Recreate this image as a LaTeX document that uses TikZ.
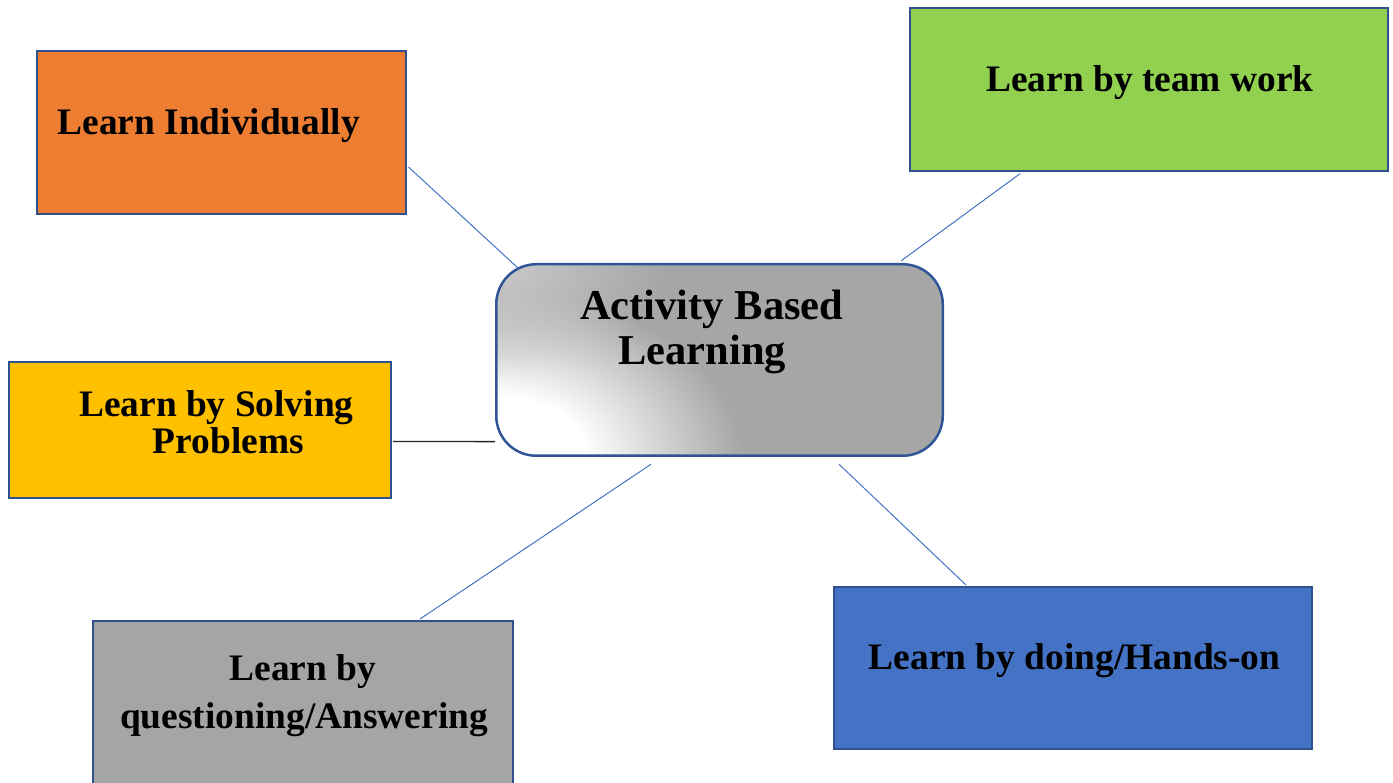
\documentclass[tikz,border=0pt]{standalone}
\usepackage{fontspec}
\setmainfont{Liberation Serif}
\usetikzlibrary{calc,fadings}
\definecolor{cgray}{HTML}{A6A6A6}
\definecolor{tlc}{HTML}{CACACA}
\definecolor{borderblue}{HTML}{2F528F}
\definecolor{ctrborder}{HTML}{2F5597}
\definecolor{connblue}{HTML}{4472C4}
\definecolor{corange}{HTML}{ED7D31}
\definecolor{cgreen}{HTML}{92D050}
\definecolor{cyellow}{HTML}{FFC000}
\definecolor{cboxgray}{HTML}{A5A5A5}
\definecolor{cblue}{HTML}{4472C4}
\pgfdeclareradialshading{blspot}{\pgfpoint{0bp}{0bp}}{color(0bp)=(white); color(9bp)=(white); color(25bp)=(cgray); color(50bp)=(cgray)}
\tikzfading[name=tlfade, inner color=transparent!0, outer color=transparent!100]
\tikzset{
  box/.style={draw=borderblue, line width=2pt, inner sep=0pt, rectangle},
  lbl/.style={inner sep=0pt, anchor=base west, font=\bfseries\fontsize{37.4}{37.4}\selectfont},
  clbl/.style={inner sep=0pt, anchor=base west, font=\bfseries\fontsize{42.5}{42.5}\selectfont},
  conn/.style={draw=connblue, line width=1pt},
  blackconn/.style={draw=black!85, line width=1.3pt}
}
\begin{document}
\begin{tikzpicture}[x=1pt,y=-1pt]
\useasboundingbox (0,0) rectangle (1393,783);
% boxes
\node[box, fill=corange, minimum width=369.5pt, minimum height=163pt] (ind) at (221.25,132.5) {};
\node[box, fill=cgreen, minimum width=478.3pt, minimum height=162.7pt] (team) at (1148.85,89.65) {};
\node[box, fill=cyellow, minimum width=381.7pt, minimum height=136.3pt] (solve) at (200.15,429.85) {};
\node[box, fill=cboxgray, minimum width=420.3pt, minimum height=199pt] (quest) at (302.85,720.5) {};
\node[box, fill=cblue, minimum width=478pt, minimum height=162pt] (doing) at (1073,668) {};
% centre
\node[draw=ctrborder, line width=2.5pt, rounded corners=40pt, inner sep=0pt,
      minimum width=446.5pt, minimum height=191.5pt,
      path picture={
        \fill[cgray] (path picture bounding box.south west) rectangle (path picture bounding box.north east);
        \shade[shading=blspot] (path picture bounding box.south west) ellipse [x radius=245, y radius=165];
        \fill[tlc, path fading=tlfade] (path picture bounding box.north west) ellipse [x radius=170, y radius=110];
      }] (ctr) at (719.5,360) {};
% connectors
\draw[conn] ($(ind.east)+(1.5,34.5)$) -- ($(ctr.north west)+(23.75,5.75)$);
\draw[conn] ($(team.south west)+(111.3,1.7)$) -- ($(ctr.north east)+(-42.75,-2.25)$);
\draw[blackconn] ($(solve.south east)+(1,-57.6)$) -- ($(ctr.south west)+(0,-15.35)$);
\draw[conn] ($(ctr.south)+(-68.5,7.25)$) -- ($(quest.north)+(117.15,-1)$);
\draw[conn] ($(ctr.south)+(119.5,7.25)$) -- ($(doing.north west)+(133,-1)$);
% labels
\node[lbl] (t1) at (57.3,135) {Learn Individually};
\node[lbl] (t2) at (986,91.7) {Learn by team work};
\node[lbl] (t3a) at (79,416.7) {Learn by Solving};
\node[lbl] (t3b) at (152.7,454) {Problems};
\node[lbl] (t4a) at (229.3,680) {Learn by};
\node[lbl] (t4b) at (120,728.3) {questioning/Answering};
\node[lbl] (t5) at (868.7,669) {Learn by doing/Hands-on};
\node[clbl] (c1) at (580,320) {Activity Based};
\node[clbl] (c2) at (618.3,365) {Learning};
\end{tikzpicture}
\end{document}
